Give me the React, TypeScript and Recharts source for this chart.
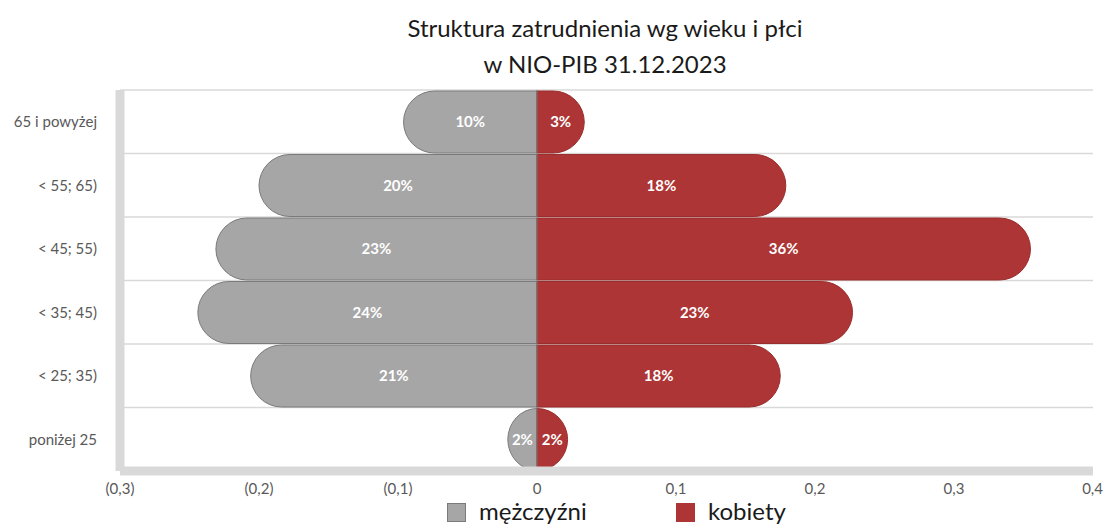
import React from 'react';
import {
  BarChart,
  Bar,
  XAxis,
  YAxis,
  CartesianGrid,
  ReferenceLine,
  LabelList,
} from 'recharts';

const categories = ['65 i powyżej', '< 55; 65)', '< 45; 55)', '< 35; 45)', '< 25; 35)', 'poniżej 25'];
const men = [-0.096, -0.2, -0.231, -0.244, -0.206, -0.021];
const women = [0.034, 0.179, 0.355, 0.227, 0.175, 0.022];
const xTicks = [-0.3, -0.2, -0.1, 0, 0.1, 0.2, 0.3, 0.4];
const seriesNames = ['mężczyźni', 'kobiety'];

const MEN_FILL = '#a6a6a6';
const MEN_STROKE = '#7a7a7a';
const WOMEN_FILL = '#ad3535';
const WOMEN_STROKE = '#9a2d2d';
const FONT = 'Lato, "Open Sans", sans-serif';

const data = categories.map((cat, i) => ({ cat, men: men[i], women: women[i] }));

function PillBar(props: any) {
  const { x, y, width, height, fill, stroke, side } = props;
  if (!width || !height) return null;
  const left = Math.min(x, x + width);
  const w = Math.abs(width);
  const right = left + w;
  const ry = height / 2;
  const rx = Math.min(ry, w);
  const top = y;
  const bottom = y + height;
  const d =
    side === 'left'
      ? `M${right},${top} L${left + rx},${top} A${rx},${ry} 0 0 0 ${left + rx},${bottom} L${right},${bottom} Z`
      : `M${left},${top} L${right - rx},${top} A${rx},${ry} 0 0 1 ${right - rx},${bottom} L${left},${bottom} Z`;
  return <path d={d} fill={fill} stroke={stroke} strokeWidth={1} />;
}

const fmtTick = (v: number) => {
  if (Math.abs(v) < 1e-9) return '0';
  const s = Math.abs(v).toFixed(1).replace('.', ',');
  return v < 0 ? `(${s})` : s;
};

const fmtLabel = (v: any) => `${Math.round(Math.abs(Number(v)) * 100)}%`;

export default function App() {
  return (
    <div
      style={{
        position: 'absolute',
        left: 0,
        top: 0,
        width: 1103,
        height: 524,
        overflow: 'hidden',
        background: '#fff',
        fontFamily: FONT,
      }}
    >
      <div
        style={{
          position: 'absolute',
          left: 305,
          top: 10,
          width: 600,
          textAlign: 'center',
          fontSize: 24,
          lineHeight: '36px',
          color: '#1a1a1a',
        }}
      >
        Struktura zatrudnienia wg wieku i płci
        <br />
        w NIO-PIB 31.12.2023
      </div>

      <BarChart
        width={1103}
        height={524}
        data={data}
        layout="vertical"
        stackOffset="sign"
        barCategoryGap={1}
        margin={{ top: 90, right: 10, bottom: 23, left: 0 }}
      >
        <CartesianGrid
          vertical={false}
          stroke="#d9d9d9"
          strokeWidth={1.5}
          horizontalCoordinatesGenerator={({ offset }: any) =>
            categories.map((_, i) => offset.top + (i * offset.height) / categories.length)
          }
        />
        <XAxis
          type="number"
          domain={[-0.3, 0.4]}
          ticks={xTicks}
          tickFormatter={fmtTick}
          axisLine={{ stroke: '#d9d9d9', strokeWidth: 9 }}
          tickLine={false}
          tickSize={0}
          tickMargin={12}
          height={30}
          tick={{ fill: '#595959', fontSize: 15, fontFamily: FONT }}
        />
        <YAxis
          type="category"
          dataKey="cat"
          width={120}
          axisLine={{ stroke: '#d9d9d9', strokeWidth: 9 }}
          tickLine={false}
          tickSize={0}
          tickMargin={23}
          tick={{ fill: '#595959', fontSize: 15, fontFamily: FONT }}
        />
        <Bar
          dataKey="men"
          name={seriesNames[0]}
          stackId="a"
          fill={MEN_FILL}
          stroke={MEN_STROKE}
          isAnimationActive={false}
          shape={(p: any) => <PillBar {...p} side="left" />}
        >
          <LabelList
            dataKey="men"
            position="center"
            formatter={fmtLabel}
            fill="#ffffff"
            style={{ fontSize: 15, fontWeight: 700, fontFamily: FONT }}
          />
        </Bar>
        <Bar
          dataKey="women"
          name={seriesNames[1]}
          stackId="a"
          fill={WOMEN_FILL}
          stroke={WOMEN_STROKE}
          isAnimationActive={false}
          shape={(p: any) => <PillBar {...p} side="right" />}
        >
          <LabelList
            dataKey="women"
            position="center"
            formatter={fmtLabel}
            fill="#ffffff"
            style={{ fontSize: 15, fontWeight: 700, fontFamily: FONT }}
          />
        </Bar>
        <ReferenceLine x={0} stroke="#7a7a7a" strokeWidth={1} />
      </BarChart>

      <div
        style={{
          position: 'absolute',
          left: 447,
          top: 499,
          display: 'flex',
          alignItems: 'flex-start',
          fontSize: 24,
          lineHeight: '24px',
          color: '#1a1a1a',
        }}
      >
        <span
          style={{
            display: 'inline-block',
            width: 19,
            height: 19,
            marginTop: 4,
            background: MEN_FILL,
            border: `1px solid ${MEN_STROKE}`,
            boxSizing: 'border-box',
          }}
        />
        <span style={{ marginLeft: 13, width: 197 }}>{seriesNames[0]}</span>
        <span
          style={{
            display: 'inline-block',
            width: 19,
            height: 19,
            marginTop: 4,
            background: WOMEN_FILL,
            boxSizing: 'border-box',
          }}
        />
        <span style={{ marginLeft: 13 }}>{seriesNames[1]}</span>
      </div>
    </div>
  );
}
